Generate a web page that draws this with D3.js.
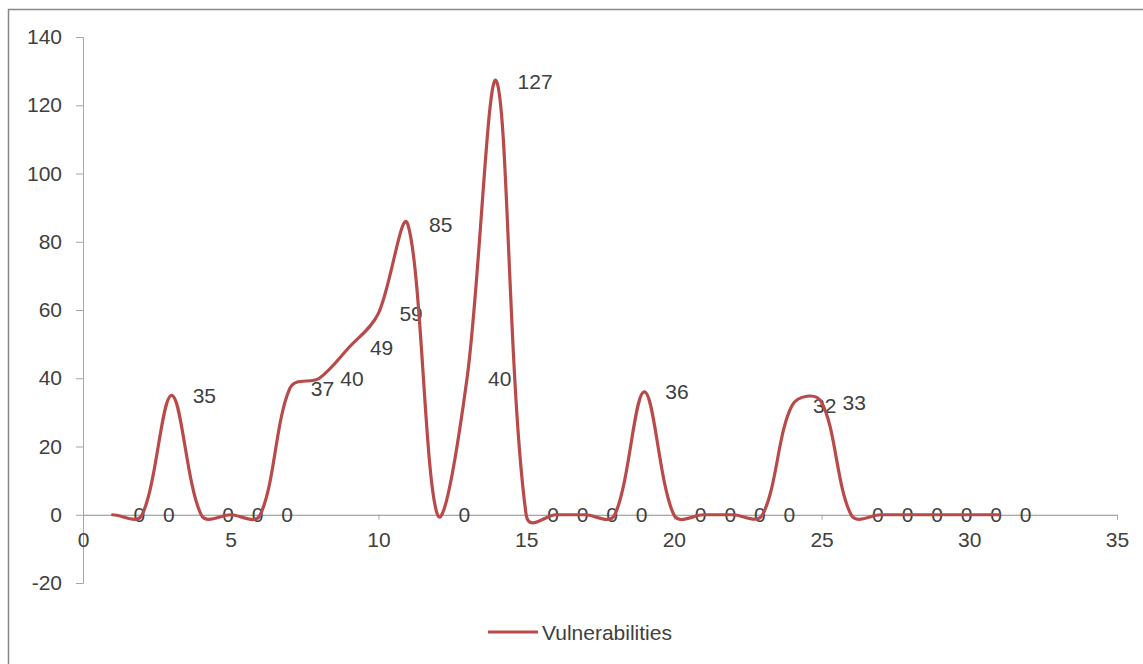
<!DOCTYPE html>
<html>
<head>
<meta charset="utf-8">
<script src="https://cdn.jsdelivr.net/npm/d3@7"></script>
<style>
  html, body { margin: 0; padding: 0; background: #fff; }
  svg { display: block; }
  text { font-family: "Liberation Sans", Arial, sans-serif; fill: #404040; }
</style>
</head>
<body>
<svg id="chart" width="1143" height="664"></svg>
<script>
// ---- data ----
const xValues = [1,2,3,4,5,6,7,8,9,10,11,12,13,14,15,16,17,18,19,20,21,22,23,24,25,26,27,28,29,30,31];
const vulnerabilities = [0,0,35,0,0,0,37,40,49,59,85,0,40,127,0,0,0,0,36,0,0,0,0,32,33,0,0,0,0,0,0];
const xTicks = [0,5,10,15,20,25,30,35];
const yTicks = [-20,0,20,40,60,80,100,120,140];
const seriesName = "Vulnerabilities";

const svg = d3.select("#chart");
const data = xValues.map((x, i) => ({x, y: vulnerabilities[i]}));

const x = d3.scaleLinear().domain([0, 35]).range([83, 1117]);
const y = d3.scaleLinear().domain([-20, 140]).range([583, 37]);

const lineColor = "#b94a4a";
const axisColor = "#a6a6a6";
const fmt = d => String(d);

// chart border (top & left visible)
svg.append("rect").attr("x", 8.5).attr("y", 9.5).attr("width", 1200).attr("height", 800)
  .attr("fill", "#fff").attr("stroke", "#878787").attr("stroke-width", 1.5);

// y axis
const yAxis = d3.axisLeft(y).tickValues(yTicks).tickSize(7).tickPadding(14).tickFormat(fmt);
const gy = svg.append("g").attr("transform", `translate(${x(0)},0)`).call(yAxis);
gy.select(".domain").attr("stroke", axisColor);
gy.selectAll(".tick line").attr("stroke", axisColor);
gy.selectAll(".tick text").attr("font-size", 21).attr("fill", "#404040")
  .attr("font-family", "Liberation Sans, Arial, sans-serif");

// x axis at y=0
const xAxis = d3.axisBottom(x).tickValues(xTicks).tickSize(5).tickSizeOuter(0).tickPadding(12).tickFormat(fmt);
const gx = svg.append("g").attr("transform", `translate(0,${y(0)})`).call(xAxis);
gx.select(".domain").attr("stroke", "#8c8c8c");
gx.selectAll(".tick line").attr("stroke", axisColor);
gx.selectAll(".tick text").attr("font-size", 21).attr("fill", "#404040")
  .attr("font-family", "Liberation Sans, Arial, sans-serif");

// data labels
svg.append("g").selectAll("text").data(data).join("text")
  .attr("x", d => x(d.x) + 21)
  .attr("y", d => y(d.y))
  .attr("dy", "0.36em")
  .attr("font-size", 21)
  .text(d => d.y);

// smoothed line (spreadsheet-style chord-weighted Bezier smoothing, in screen space)
function smoothPath(points) {
  const p = d3.path();
  const pts = points.map(d => [x(d.x), y(d.y)]);
  const dist = (a, b) => Math.pow(Math.hypot(b[0] - a[0], b[1] - a[1]), 0.72);
  p.moveTo(pts[0][0], pts[0][1]);
  for (let i = 0; i < pts.length - 1; i++) {
    const P0 = pts[i - 1] || pts[i], P1 = pts[i], P2 = pts[i + 1], P3 = pts[i + 2] || pts[i + 1];
    const d01 = dist(P0, P1), d12 = dist(P1, P2), d23 = dist(P2, P3);
    const f1 = d01 + d12 > 0 ? (1 / 3) * d12 / (d01 + d12) : 0;
    const f2 = d12 + d23 > 0 ? (1 / 3) * d12 / (d12 + d23) : 0;
    const c1 = [P1[0] + f1 * (P2[0] - P0[0]), P1[1] + f1 * (P2[1] - P0[1])];
    const c2 = [P2[0] - f2 * (P3[0] - P1[0]), P2[1] - f2 * (P3[1] - P1[1])];
    p.bezierCurveTo(c1[0], c1[1], c2[0], c2[1], P2[0], P2[1]);
  }
  return p.toString();
}
svg.append("path").attr("d", smoothPath(data))
  .attr("fill", "none").attr("stroke", lineColor).attr("stroke-width", 3.2)
  .attr("stroke-linejoin", "round").attr("stroke-linecap", "round");

// legend
const lg = svg.append("g").attr("transform", "translate(488,632)");
lg.append("line").attr("x1", 0).attr("x2", 50).attr("y1", 0).attr("y2", 0)
  .attr("stroke", lineColor).attr("stroke-width", 3.2);
lg.append("text").attr("x", 54).attr("y", 0).attr("dy", "0.36em").attr("font-size", 21).text(seriesName);
</script>
</body>
</html>
